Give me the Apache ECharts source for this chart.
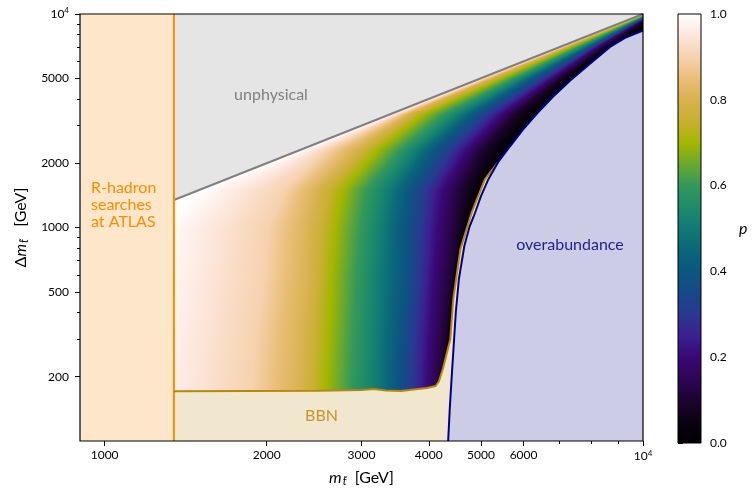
<!DOCTYPE html>
<html><head><meta charset="utf-8">
<script src="https://cdn.jsdelivr.net/npm/echarts@6/dist/echarts.min.js"></script>
<style>html,body{margin:0;padding:0;background:#fff}#c{width:753px;height:492px}</style>
</head><body><div id="c"></div>
<script>
// ---------- data ----------
const X_MIN = 900, X_MAX = 10000, Y_MIN = 100, Y_MAX = 10000;
const xTickLabeled = [1000, 2000, 3000, 4000, 5000, 6000, 10000];
const xTickMinor = [7000, 8000, 9000];
const yTickLabeled = [200, 500, 1000, 2000, 5000, 10000];
const yTickMinor = [300, 400, 600, 700, 800, 900, 3000, 4000, 6000, 7000, 8000, 9000];

const rhadronX = 1345;
const diagX = [1345, 10000];
const diagY = [1345, 10000];
const bbnX = [1345, 2500, 3000, 3160, 3330, 3550, 3966, 4120, 4177, 4250, 4386, 4443, 4580, 4810, 5085, 5377];
const bbnY = [171, 172, 173.5, 175, 172.5, 171.5, 177, 181, 190, 218, 300, 463, 792, 1180, 1680, 2017];
const overX = [4346, 4375, 4410, 4491, 4550, 4658, 4759, 4872, 4999, 5150, 5377, 5658, 5984, 6353, 6803, 7316, 7970, 8683, 9259, 10000];
const overY = [100, 140, 196, 402, 574, 821, 1003, 1166, 1400, 1663, 2017, 2395, 2875, 3415, 4099, 4869, 5844, 7015, 7727, 8357];

// contours of p (x position in GeV) at several Delta m values
const pLevels = [1.0, 0.9, 0.8, 0.7, 0.6, 0.5, 0.4, 0.2, 0.1, 0.0];
const contourY = [160, 300, 600, 1000, 1500, 2300, 3400, 5000, 7000, 10000];
const contourX = [
  [1113, 1868, 2314, 2576, 2866, 3203, 3489, 3966, 4213, 4392],
  [1162, 1900, 2344, 2609, 2903, 3231, 3519, 4018, 4286, 4450],
  [1213, 1975, 2394, 2643, 2941, 3258, 3611, 4087, 4415, 4560],
  [1266, 2009, 2415, 2688, 2991, 3301, 3611, 4159, 4520, 4757],
  [1502, 2161, 2489, 2770, 3069, 3387, 3689, 4248, 4608, 5030],
  [2304, 2587, 2928, 3216, 3534, 3818, 4106, 4707, 5036, 5590],
  [3415, 3534, 3689, 3933, 4267, 4588, 4872, 5470, 5777, 6343],
  [5000, 5107, 5240, 5470, 5757, 6008, 6272, 6770, 7012, 7400],
  [7012, 7102, 7194, 7350, 7572, 7768, 7936, 8213, 8463, 8680],
  [10000, 10040, 10080, 10140, 10200, 10260, 10320, 10420, 10500, 11000]
];

const cmapP = [0, 0.05, 0.1, 0.15, 0.2, 0.25, 0.3, 0.35, 0.4, 0.45, 0.5, 0.55, 0.6, 0.65, 0.7, 0.75, 0.8, 0.85, 0.9, 0.95, 1.0];
const cmapColor = ['#000000','#0b0212','#1c0430','#2f0556','#3a0876','#3a2090','#2a3890','#184888','#0c5680','#0a667a','#117a74','#1e8c6a','#33985a','#6aa830','#a4b600','#c8b030','#d8b24e','#eabe78','#f6d2ae','#fde6dc','#ffffff'];

// ---------- helpers ----------
const FONT = 'Lato';
function rowStops(xs) {
  const n = xs.length, x0 = xs[0], x1 = xs[n - 1];
  const stops = [];
  for (let k = cmapP.length - 1; k >= 0; k--) {
    const p = cmapP[k];
    let j = 0;
    while (j < n - 2 && p < pLevels[j + 1]) j++;
    const t = (pLevels[j] - p) / (pLevels[j] - pLevels[j + 1]);
    const x = xs[j] + t * (xs[j + 1] - xs[j]);
    let off = (x - x0) / (x1 - x0);
    off = Math.max(0, Math.min(1, off));
    if (stops.length && off < stops[stops.length - 1].offset) off = stops[stops.length - 1].offset;
    stops.push({offset: off, color: cmapColor[k]});
  }
  return stops;
}
function polySeries(xs, ys, fill, z) {
  return {
    type: 'custom', xAxisIndex: 0, yAxisIndex: 0, z: z, silent: true, clip: true,
    data: [[xs[0], ys[0]]],
    renderItem: function (params, api) {
      return {type: 'polygon', shape: {points: xs.map((x, i) => api.coord([x, ys[i]]))}, style: {fill: fill}};
    }
  };
}
function lineSeries(xs, ys, color, width, smooth) {
  return {
    type: 'line', xAxisIndex: 0, yAxisIndex: 0, z: 4, silent: true, clip: true,
    symbol: 'none', showSymbol: false, smooth: smooth || false,
    data: xs.map((x, i) => [x, ys[i]]),
    lineStyle: {color: color, width: width}
  };
}
function tickFmt(v) {
  const r = Math.round(v);
  if (r === 10000) return '10{sup|4}';
  return String(r);
}
const tickText = {color: '#000', fontFamily: FONT, fontSize: 12, rich: {sup: {fontFamily: FONT, fontSize: 8, padding: [0, 0, 7, 0], color: '#000'}}};
const nameRich = {
  n: {fontFamily: FONT, fontSize: 16, color: '#000'},
  i: {fontFamily: FONT, fontSize: 16, fontStyle: 'italic', color: '#000'},
  s: {fontFamily: FONT, fontSize: 11, fontStyle: 'italic', color: '#000', padding: [8, 0, 0, 1]}
};

// ---------- chart ----------
const chart = echarts.init(document.getElementById('c'), null, {renderer: 'canvas', width: 753, height: 492});

const gradientSeries = {
  type: 'custom', xAxisIndex: 0, yAxisIndex: 0, z: 1, silent: true, clip: true,
  data: contourY.slice(0, -1).map((y, i) => [contourX[i][0], y]),
  renderItem: function (params, api) {
    const i = params.dataIndex;
    const cs = params.coordSys;
    const yA = contourY[i], yB = contourY[i + 1];
    const pyA = api.coord([X_MIN, yA])[1], pyB = api.coord([X_MIN, yB])[1];
    const xsA = contourX[i].map(x => api.coord([x, yA])[0]);
    const xsB = contourX[i + 1].map(x => api.coord([x, yB])[0]);
    const children = [];
    const top = Math.max(Math.floor(pyB), Math.floor(cs.y));
    const bottom = Math.min(Math.ceil(pyA), Math.ceil(cs.y + cs.height));
    for (let py = top; py < bottom; py++) {
      const t = (py + 0.5 - pyA) / (pyB - pyA);
      const xs = xsA.map((v, j) => v + (xsB[j] - v) * t);
      children.push({
        type: 'rect',
        shape: {x: cs.x, y: py, width: cs.width, height: 1},
        style: {fill: {type: 'linear', x: xs[0], y: 0, x2: xs[xs.length - 1], y2: 0, global: true, colorStops: rowStops(xs)}}
      });
    }
    return {type: 'group', children: children};
  }
};

const option = {
  animation: false,
  backgroundColor: '#ffffff',
  grid: [
    {left: 80, top: 14, width: 563, height: 429},
    {left: 678, top: 14, width: 23, height: 429}
  ],
  xAxis: [
    {
      type: 'log', logBase: 10, gridIndex: 0, min: X_MIN, max: X_MAX, position: 'bottom',
      axisLine: {show: false}, splitLine: {show: false}, minorTick: {show: false},
      axisTick: {show: true, inside: false, length: 5, customValues: xTickLabeled, lineStyle: {color: '#000', width: 1}},
      axisLabel: Object.assign({customValues: xTickLabeled, formatter: tickFmt, margin: 8}, tickText),
      name: '{i|m}{s|t̃}{n|  [GeV]}', nameLocation: 'middle', nameGap: 27,
      nameTextStyle: {rich: nameRich}
    },
    {
      type: 'log', logBase: 10, gridIndex: 0, min: X_MIN, max: X_MAX, position: 'bottom',
      axisLine: {show: false}, splitLine: {show: false}, minorTick: {show: false},
      axisTick: {show: true, inside: false, length: 3, customValues: xTickMinor, lineStyle: {color: '#000', width: 1}},
      axisLabel: {show: false}
    },
    {type: 'value', gridIndex: 1, min: 0, max: 1, show: false}
  ],
  yAxis: [
    {
      type: 'log', logBase: 10, gridIndex: 0, min: Y_MIN, max: Y_MAX, position: 'left',
      axisLine: {show: false}, splitLine: {show: false}, minorTick: {show: false},
      axisTick: {show: true, inside: false, length: 5, customValues: yTickLabeled, lineStyle: {color: '#000', width: 1}},
      axisLabel: Object.assign({customValues: yTickLabeled, formatter: tickFmt, margin: 11}, tickText),
      name: '{n|Δ}{i|m}{s|t̃}{n|   [GeV]}', nameLocation: 'middle', nameGap: 46, nameRotate: 90,
      nameTextStyle: {rich: nameRich}
    },
    {
      type: 'log', logBase: 10, gridIndex: 0, min: Y_MIN, max: Y_MAX, position: 'left',
      axisLine: {show: false}, splitLine: {show: false}, minorTick: {show: false},
      axisTick: {show: true, inside: false, length: 3, customValues: yTickMinor, lineStyle: {color: '#000', width: 1}},
      axisLabel: {show: false}
    },
    {
      type: 'value', gridIndex: 1, min: 0, max: 1, interval: 0.2, position: 'right',
      axisLine: {show: false}, splitLine: {show: false},
      axisTick: {show: true, inside: false, length: 5, lineStyle: {color: '#000', width: 1}},
      axisLabel: {formatter: v => v.toFixed(1), margin: 9, color: '#000', fontFamily: FONT, fontSize: 12},
      name: '{i|p}', nameLocation: 'middle', nameGap: 38, nameRotate: 0,
      nameTextStyle: {rich: nameRich}
    }
  ],
  series: [
    gradientSeries,
    polySeries([X_MIN, rhadronX, rhadronX, X_MIN], [Y_MIN, Y_MIN, Y_MAX, Y_MAX], '#fee6cb', 2),
    polySeries([diagX[0], diagX[1], diagX[0]], [diagY[0], diagY[1], Y_MAX], '#e5e5e5', 2),
    polySeries([rhadronX].concat(bbnX, [X_MAX, X_MAX]), [Y_MIN].concat(bbnY, [bbnY[bbnY.length - 1], Y_MIN]), '#f1e7ce', 2),
    polySeries(overX.concat([X_MAX]), overY.concat([Y_MIN]), '#ccccE6', 3),
    lineSeries(diagX, diagY, '#808080', 2),
    lineSeries([rhadronX, rhadronX], [Y_MIN, Y_MAX], '#ff8c00', 2),
    lineSeries(bbnX, bbnY, '#b8860b', 2),
    lineSeries(overX, overY, '#00008b', 2),
    {
      type: 'custom', xAxisIndex: 0, yAxisIndex: 0, z: 6, silent: true,
      data: [[X_MIN, Y_MIN]],
      renderItem: function (params, api) {
        const cs = params.coordSys;
        return {type: 'rect', shape: {x: cs.x, y: cs.y, width: cs.width, height: cs.height}, style: {fill: null, stroke: '#000', lineWidth: 1.2}};
      }
    },
    {
      type: 'custom', xAxisIndex: 2, yAxisIndex: 2, z: 2, silent: true,
      data: [[0, 0]],
      renderItem: function (params, api) {
        const p0 = api.coord([0, 0]), p1 = api.coord([1, 1]);
        const stops = cmapP.map((p, k) => ({offset: 1 - p, color: cmapColor[k]})).reverse();
        return {type: 'rect', shape: {x: p0[0], y: p1[1], width: p1[0] - p0[0], height: p0[1] - p1[1]},
          style: {fill: {type: 'linear', x: 0, y: p1[1], x2: 0, y2: p0[1], global: true, colorStops: stops}, stroke: '#000', lineWidth: 1}};
      }
    }
  ],
  graphic: [
    {type: 'text', x: 271, y: 95, z: 20, silent: true, style: {text: 'unphysical', fill: '#808080', fontFamily: FONT, fontSize: 16, align: 'center', verticalAlign: 'middle'}},
    {type: 'text', x: 91, y: 205, z: 20, silent: true, style: {text: 'R-hadron\nsearches\nat ATLAS', fill: '#ff8c00', fontFamily: FONT, fontSize: 16, lineHeight: 17, align: 'left', verticalAlign: 'middle'}},
    {type: 'text', x: 570, y: 245, z: 20, silent: true, style: {text: 'overabundance', fill: '#23238e', fontFamily: FONT, fontSize: 16, align: 'center', verticalAlign: 'middle'}},
    {type: 'text', x: 321.5, y: 415.5, z: 20, silent: true, style: {text: 'BBN', fill: '#c4962c', fontFamily: FONT, fontSize: 16, align: 'center', verticalAlign: 'middle'}}
  ]
};
chart.setOption(option);
</script>
</body></html>
